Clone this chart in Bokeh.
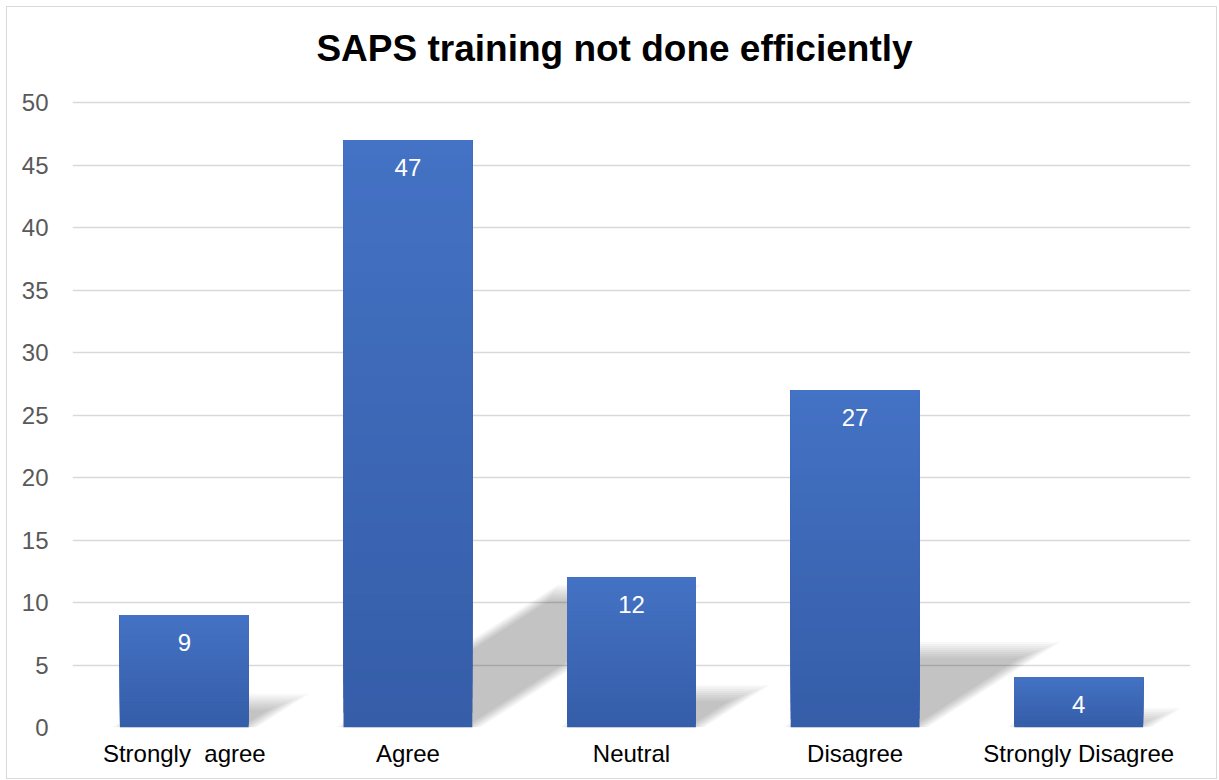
from bokeh.plotting import figure
from bokeh.models import Range1d, FixedTicker, ColumnDataSource, Label
from bokeh.embed import file_html
from bokeh.resources import INLINE
from bokeh.core.properties import value

# ---- data ----
categories = ["Strongly  agree", "Agree", "Neutral", "Disagree", "Strongly Disagree"]
counts = [9, 47, 12, 27, 4]
y_ticks = [0, 5, 10, 15, 20, 25, 30, 35, 40, 45, 50]
title_text = "SAPS training not done efficiently"

FONT = "Liberation Sans"
BAR_W = 0.576
TOP_RGB = (68, 114, 196)
BOT_RGB = (53, 93, 168)

# frame spans the whole height above the axis; headroom above 50 holds the title
p = figure(width=1211, height=773, output_backend="svg", toolbar_location=None,
           x_range=Range1d(-0.5, len(categories) - 0.5), y_range=Range1d(0, 57.6),
           min_border_left=65, min_border_right=28, min_border_top=0, min_border_bottom=53)
p.margin = (6, 0, 0, 6)
p.outline_line_color = None
p.background_fill_color = "white"
p.border_fill_color = "white"
p.styles = {"border": "1px solid #d9d9d9"}

# title as a label positioned relative to the plot frame (screen px, from bottom-left)
p.add_layout(Label(x=542, y=679, x_units="screen", y_units="screen", text=title_text,
                   text_font=FONT, text_font_size="37px", text_font_style="bold",
                   text_color="#000000", text_align="center", text_baseline="middle"))

# axes
p.xaxis.ticker = FixedTicker(ticks=list(range(len(categories))))
p.xaxis.major_label_overrides = {i: c.replace("  ", "\u00a0 ") for i, c in enumerate(categories)}
p.yaxis.ticker = FixedTicker(ticks=y_ticks)
for ax in (p.xaxis[0], p.yaxis[0]):
    ax.axis_line_color = None
    ax.major_tick_line_color = None
    ax.minor_tick_line_color = None
    ax.major_label_text_font = FONT
    ax.major_label_text_font_size = "24px"
p.xaxis.major_label_text_color = "#000000"
p.yaxis.major_label_text_color = "#595959"
p.xaxis.major_label_standoff = 6
p.yaxis.major_label_standoff = 18
p.xgrid.grid_line_color = None
p.ygrid.ticker = FixedTicker(ticks=y_ticks)
p.ygrid.grid_line_color = "#d9d9d9"
p.ygrid.grid_line_width = 1.5

# ---- shadows (sheared projection of each bar, soft edges) ----
PX_X = 224.0   # px per category
PX_Y = 12.5    # px per value unit
for e in [-8, -6, -4, -2, 0, 2, 4, 6, 8]:
    xs, ys = [], []
    for i, v in enumerate(counts):
        h = 0.23 * v
        s = 0.02 * v
        ex = e / PX_X
        ey = e / PX_Y
        hh = max(h + ey, 0.05)
        ss = s * hh / h
        L = i - BAR_W / 2 - ex
        R = i + BAR_W / 2 + ex
        xs.append([L, R, R + ss, L + ss])
        ys.append([0, 0, hh, hh])
    p.patches(xs, ys, fill_color="black", fill_alpha=0.026, line_color=None)

# ---- bars with vertical gradient (overlapping layers, no seams) ----
N = 40
for k in range(N):
    t = (k + 0.5) / N  # 0 bottom -> 1 top
    col = "#%02x%02x%02x" % tuple(int(round(b + (a - b) * t)) for a, b in zip(TOP_RGB, BOT_RGB))
    src = ColumnDataSource(dict(
        x=list(range(len(categories))),
        bottom=[v * k / N for v in counts],
        top=counts,
    ))
    p.vbar(x="x", bottom="bottom", top="top", width=BAR_W, source=src,
           fill_color=col, line_color=None)

# ---- data labels ----
lab = ColumnDataSource(dict(x=list(range(len(categories))), y=counts,
                            t=[str(v) for v in counts]))
p.text(x="x", y="y", text="t", source=lab, text_color="white",
       text_font=value(FONT), text_font_size="24px",
       text_align="center", text_baseline="middle", y_offset=27)

open("out.html", "w").write(file_html(p, INLINE))
